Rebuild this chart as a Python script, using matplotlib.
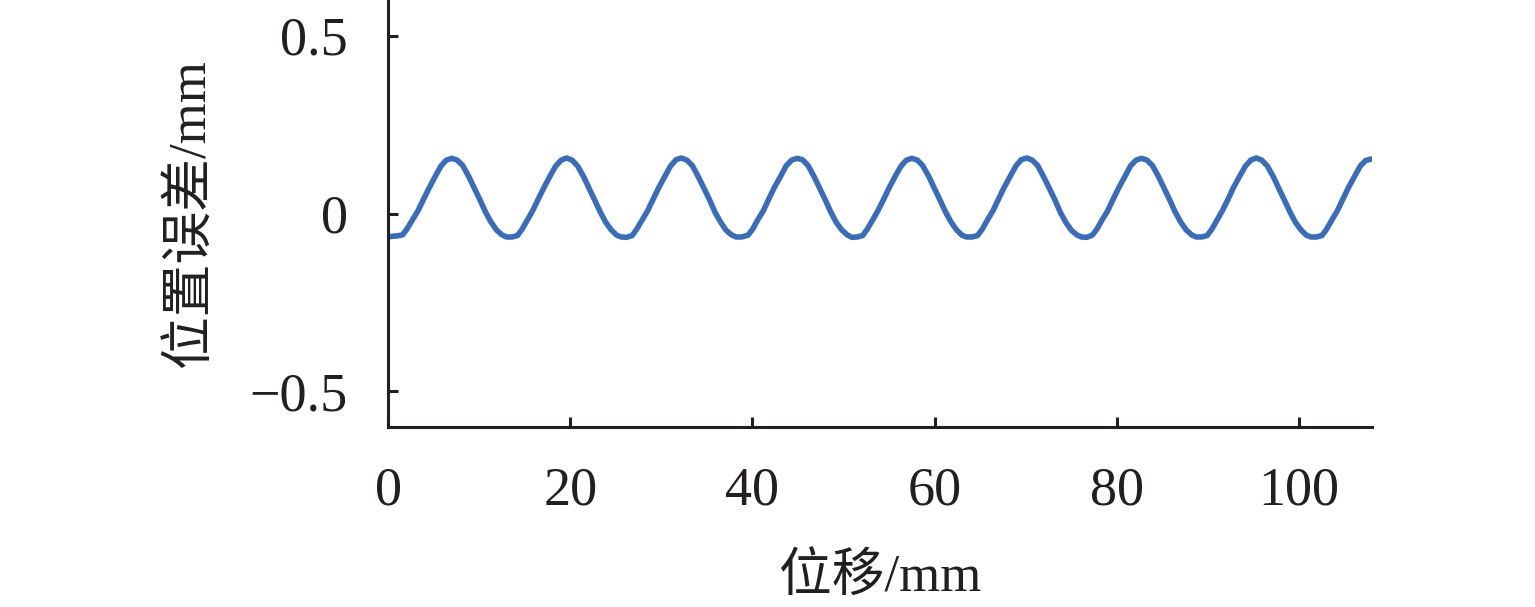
import matplotlib
matplotlib.use("Agg")
import matplotlib.pyplot as plt

# Position (mm) and position error (mm)
x_mm = [0.0, 0.5, 1.0,
        1.6, 2.1, 2.7, 3.3, 3.9, 4.5, 5.2, 5.8, 6.4, 7.0, 7.6, 8.2, 8.9, 9.5, 10.1, 10.7, 11.3, 11.9, 12.5, 13.0, 13.6,
        14.2, 14.7, 15.3, 15.9, 16.5, 17.1, 17.8, 18.4, 19.0, 19.6, 20.2, 20.8, 21.5, 22.1, 22.7, 23.3, 23.9, 24.5, 25.1, 25.6, 26.2,
        26.8, 27.3, 27.9, 28.5, 29.1, 29.7, 30.4, 31.0, 31.6, 32.2, 32.8, 33.4, 34.1, 34.7, 35.3, 35.9, 36.5, 37.1, 37.7, 38.2, 38.8,
        39.5, 40.0, 40.6, 41.2, 41.8, 42.4, 43.1, 43.7, 44.3, 44.9, 45.5, 46.1, 46.8, 47.4, 48.0, 48.6, 49.2, 49.8, 50.4, 50.9, 51.5,
        52.1, 52.6, 53.2, 53.8, 54.4, 55.0, 55.7, 56.3, 56.9, 57.5, 58.1, 58.7, 59.4, 60.0, 60.6, 61.2, 61.8, 62.4, 63.0, 63.5, 64.1,
        64.7, 65.2, 65.8, 66.4, 67.0, 67.6, 68.3, 68.9, 69.5, 70.1, 70.7, 71.3, 72.0, 72.6, 73.2, 73.8, 74.4, 75.0, 75.6, 76.1, 76.7,
        77.3, 77.8, 78.4, 79.0, 79.6, 80.2, 80.9, 81.5, 82.1, 82.7, 83.3, 83.9, 84.6, 85.2, 85.8, 86.4, 87.0, 87.6, 88.2, 88.7, 89.3,
        89.9, 90.4, 91.0, 91.6, 92.2, 92.8, 93.5, 94.1, 94.7, 95.3, 95.9, 96.5, 97.2, 97.8, 98.4, 99.0, 99.6, 100.2, 100.8, 101.3, 101.9,
        102.5, 103.0, 103.6, 104.2, 104.8, 105.4, 106.1, 106.7, 107.3, 107.9]

err_mm = [-0.066, -0.064, -0.063,
          -0.060, -0.043, -0.017, 0.008, 0.040, 0.071, 0.105, 0.133, 0.150, 0.155, 0.150, 0.135, 0.102, 0.070, 0.038, 0.004, -0.024, -0.046, -0.060, -0.066, -0.066,
          -0.062, -0.045, -0.018, 0.009, 0.041, 0.072, 0.106, 0.133, 0.150, 0.156, 0.150, 0.134, 0.102, 0.069, 0.037, 0.004, -0.025, -0.046, -0.061, -0.066, -0.067,
          -0.062, -0.044, -0.018, 0.008, 0.040, 0.072, 0.105, 0.133, 0.151, 0.156, 0.150, 0.135, 0.101, 0.070, 0.038, 0.003, -0.024, -0.047, -0.060, -0.066, -0.066,
          -0.061, -0.045, -0.017, 0.008, 0.041, 0.073, 0.105, 0.134, 0.150, 0.155, 0.151, 0.135, 0.102, 0.070, 0.038, 0.004, -0.025, -0.046, -0.060, -0.067, -0.066,
          -0.062, -0.044, -0.018, 0.009, 0.040, 0.072, 0.106, 0.133, 0.150, 0.155, 0.150, 0.134, 0.102, 0.069, 0.037, 0.004, -0.024, -0.046, -0.061, -0.066, -0.066,
          -0.062, -0.045, -0.018, 0.008, 0.040, 0.072, 0.105, 0.133, 0.151, 0.156, 0.150, 0.135, 0.101, 0.070, 0.038, 0.003, -0.025, -0.047, -0.060, -0.066, -0.067,
          -0.061, -0.044, -0.017, 0.008, 0.041, 0.072, 0.105, 0.134, 0.150, 0.155, 0.150, 0.135, 0.102, 0.070, 0.038, 0.004, -0.024, -0.046, -0.060, -0.066, -0.066,
          -0.062, -0.045, -0.018, 0.009, 0.040, 0.073, 0.106, 0.133, 0.150, 0.156, 0.150, 0.134, 0.102, 0.069, 0.037, 0.004, -0.025, -0.046, -0.061, -0.066, -0.066,
          -0.062, -0.045, -0.018, 0.008, 0.040, 0.072, 0.105, 0.133, 0.149, 0.153]

x_ticks = [0, 20, 40, 60, 80, 100]
y_ticks = [-0.5, 0, 0.5]
y_tick_labels = ["\u22120.5", "0", "0.5"]
x_label = "位移/mm"
y_label = "位置误差/mm"

fam = ["Liberation Serif", "Noto Sans CJK SC"]
plt.rcParams["font.family"] = fam

fig = plt.figure(figsize=(15.35, 6.07), dpi=100)
ax = fig.add_axes([388 / 1535, 1 - 427 / 607, (1372 - 388) / 1535, 427 / 607])

ax.plot(x_mm, err_mm, color="#3A6DB6", lw=4.0, solid_joinstyle="round", solid_capstyle="round")

ax.set_xlim(0, 108)
ax.set_ylim(-0.6, 0.6)
ax.spines["top"].set_visible(False)
ax.spines["right"].set_visible(False)
for s in ("left", "bottom"):
    ax.spines[s].set_linewidth(2.2)
    ax.spines[s].set_color("#231F20")

ax.set_xticks(x_ticks)
ax.set_xticklabels([str(t) for t in x_ticks])
ax.set_yticks(y_ticks)
ax.set_yticklabels(y_tick_labels)
ax.tick_params(axis="both", direction="in", length=7, width=2.2, color="#231F20",
               labelsize=39, labelcolor="#231F20")
ax.tick_params(axis="x", pad=28)
ax.tick_params(axis="y", pad=29)

ax.set_xlabel(x_label, fontsize=38, color="#231F20", labelpad=26)
ax.set_ylabel(y_label, fontsize=38, color="#231F20", labelpad=24)

fig.savefig("out.png", dpi=100, facecolor="white")
